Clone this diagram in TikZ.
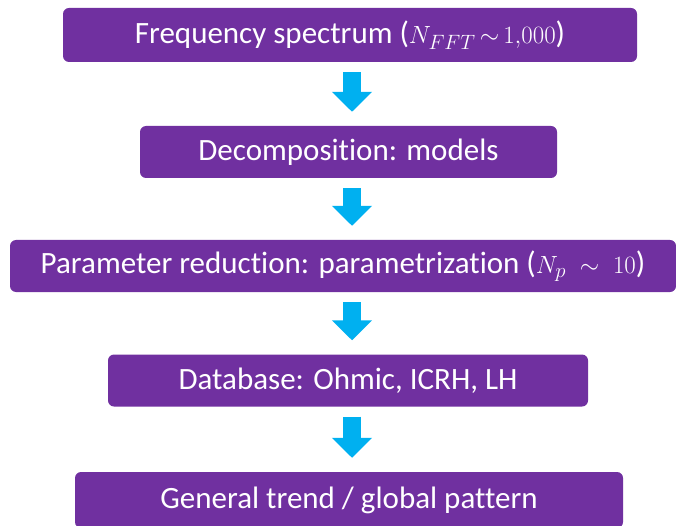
\documentclass[tikz,border=0pt]{standalone}
\usepackage{fontspec}
\setmainfont[Ligatures=NoCommon]{Carlito}
\usepackage{tikz}
\usetikzlibrary{arrows.meta}
\definecolor{boxpurple}{HTML}{7030A0}
\definecolor{flowblue}{HTML}{00B0F0}

\begin{document}
\begin{tikzpicture}[x=1pt,y=-1pt,
    stage/.style={fill=boxpurple, rounded corners=6pt, text=white, inner sep=0pt,
                  minimum height=52pt, font=\fontsize{31}{35}\selectfont},
    flow/.style={draw=flowblue, line width=18pt,
                 -{Triangle[length=20pt,width=39pt,fill=flowblue]}}
    ]
            \useasboundingbox (0,0) rectangle (676,526);
            \node[stage, minimum width=574pt, minimum height=54pt] (freq) at (350,35)
                {Frequency spectrum ($N_{FFT}\,{\sim}\,1{,}000$)};
            \node[stage, minimum width=417pt] (decomp) at (348.5,152) {Decomposition: models};
            \node[stage, minimum width=666pt] (param) at (343,266)
                {Parameter reduction: parametrization ($N_p\;\sim\;10$)};
            \node[stage, minimum width=480pt] (data) at (348,380.5) {Database: Ohmic, ICRH, LH};
            \node[stage, minimum width=548pt, minimum height=56pt] (trend) at (349,500)
                {General trend / global pattern};
            % arrows between the stages
            \coordinate (ax) at (352,0);
            \draw[flow, shorten <=10pt, shorten >=14pt] (freq.south -| ax) -- (decomp.north -| ax);
            \draw[flow, shorten <=10pt, shorten >=14pt] (decomp.south -| ax) -- (param.north -| ax);
            \draw[flow, shorten <=10pt, shorten >=14pt] (param.south -| ax) -- (data.north -| ax);
            \draw[flow, shorten <=10pt, shorten >=14pt] (data.south -| ax) -- (trend.north -| ax);
        \end{tikzpicture}
\end{document}
